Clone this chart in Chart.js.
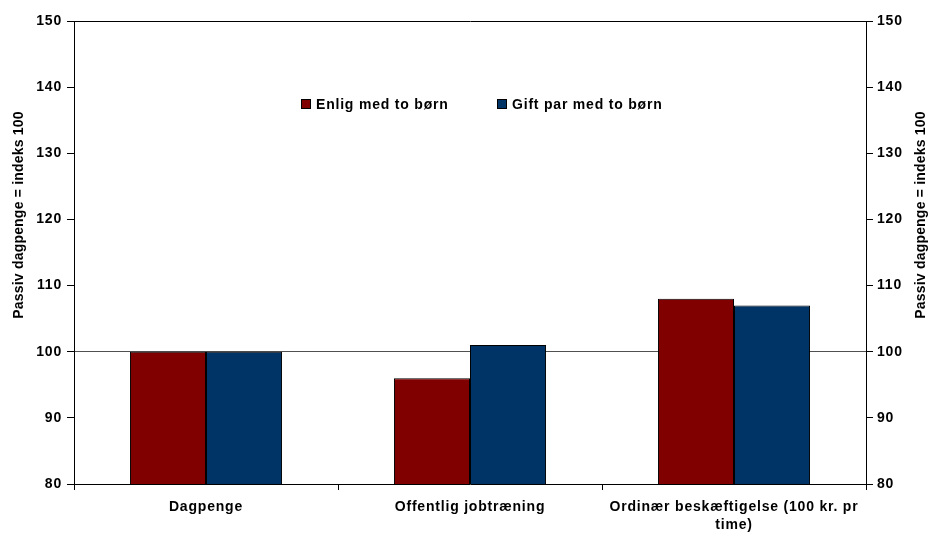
<!DOCTYPE html>
<html>
<head>
<meta charset="utf-8">
<script src="https://cdn.jsdelivr.net/npm/chart.js@4/dist/chart.umd.min.js"></script>
<style>
  html, body { margin: 0; padding: 0; background: #fff; }
  #c { display: block; }
</style>
</head>
<body>
<canvas id="c" width="929" height="533"></canvas>
<script>
// Categories on the x axis (the last one wraps onto two lines)
const categories = ['Dagpenge', 'Offentlig jobtræning', ['Ordinær beskæftigelse (100 kr. pr', 'time)']];

// Series: index values, passive unemployment benefit = 100
const seriesNames = ['Enlig med to børn', 'Gift par med to børn'];
const enligValues = [100, 96, 108];
const giftValues = [100, 101, 107];
const seriesColors = ['#800000', '#003366'];

// Value axis range and step
const yMin = 80;
const yMax = 150;
const yStep = 10;
const axisTitle = 'Passiv dagpenge = indeks 100';

const FONT = "'Liberation Sans', Arial, sans-serif";

// Gridlines: only the index-100 reference line and the top frame line are shown
function gridColor(ctx) {
  if (!ctx.tick) return 'rgba(0,0,0,0)';
  if (ctx.tick.value === 100) return '#505050';
  if (ctx.tick.value === yMax) return '#000000';
  return 'rgba(0,0,0,0)';
}

// Legend placed inside the plot area, and both vertical axis titles reading upwards
const decorations = {
  id: 'decorations',
  beforeDraw(chart) {
    chart.ctx.letterSpacing = '0.8px';
  },
  afterDraw(chart) {
    const ctx = chart.ctx;
    ctx.save();
    ctx.font = 'bold 14px ' + FONT;
    ctx.fillStyle = '#000';
    ctx.textBaseline = 'middle';
    ctx.textAlign = 'left';
    const legendX = [301, 497];
    const legendY = 104;
    chart.data.datasets.forEach((ds, i) => {
      ctx.fillStyle = ds.backgroundColor;
      ctx.fillRect(legendX[i], legendY - 5, 10, 10);
      ctx.strokeStyle = '#000';
      ctx.lineWidth = 1;
      ctx.strokeRect(legendX[i] + 0.5, legendY - 4.5, 9, 9);
      ctx.fillStyle = '#000';
      ctx.fillText(ds.label, legendX[i] + 15, legendY + 1);
    });

    ctx.letterSpacing = '0.2px';
    ctx.font = 'bold 14px ' + FONT;
    ctx.textAlign = 'center';
    [19, 921].forEach(x => {
      ctx.save();
      ctx.translate(x, 215);
      ctx.rotate(-Math.PI / 2);
      ctx.fillText(axisTitle, 0, 0);
      ctx.restore();
    });
    ctx.restore();
    ctx.letterSpacing = '0px';
  }
};

const tickFont = { family: FONT, size: 14, weight: 'bold' };

new Chart(document.getElementById('c'), {
  type: 'bar',
  data: {
    labels: categories,
    datasets: [
      {
        label: seriesNames[0],
        data: enligValues,
        backgroundColor: seriesColors[0],
        borderColor: '#000',
        borderWidth: 1,
        yAxisID: 'y'
      },
      {
        label: seriesNames[1],
        data: giftValues,
        backgroundColor: seriesColors[1],
        borderColor: '#000',
        borderWidth: 1,
        yAxisID: 'y'
      }
    ]
  },
  options: {
    responsive: false,
    animation: false,
    devicePixelRatio: 1,
    layout: { padding: { top: 21, left: 0, right: 0, bottom: 0 } },
    datasets: {
      bar: { categoryPercentage: 0.576, barPercentage: 1.0 }
    },
    plugins: {
      legend: { display: false },
      title: { display: false },
      tooltip: { enabled: false }
    },
    scales: {
      x: {
        offset: true,
        grid: {
          offset: true,
          drawOnChartArea: false,
          tickLength: 6,
          tickColor: '#000',
          color: '#000'
        },
        border: { color: '#000', width: 1 },
        ticks: {
          color: '#000',
          font: { family: FONT, size: 14, weight: 'bold', lineHeight: 1.3 },
          padding: 8,
          maxRotation: 0,
          autoSkip: false
        },
        afterFit(scale) { scale.height = 49; }
      },
      y: {
        position: 'left',
        min: yMin,
        max: yMax,
        grid: {
          color: gridColor,
          tickColor: '#000',
          tickLength: 7,
          lineWidth: 1
        },
        border: { color: '#000', width: 1 },
        ticks: {
          stepSize: yStep,
          color: '#000',
          font: tickFont,
          padding: 5
        },
        afterFit(scale) { scale.width = 74; }
      },
      y2: {
        position: 'right',
        min: yMin,
        max: yMax,
        grid: {
          drawOnChartArea: false,
          tickColor: '#000',
          tickLength: 7
        },
        border: { color: '#000', width: 1 },
        ticks: {
          stepSize: yStep,
          color: '#000',
          font: tickFont,
          padding: 4
        },
        afterFit(scale) { scale.width = 63; }
      }
    }
  },
  plugins: [decorations]
});
</script>
</body>
</html>
